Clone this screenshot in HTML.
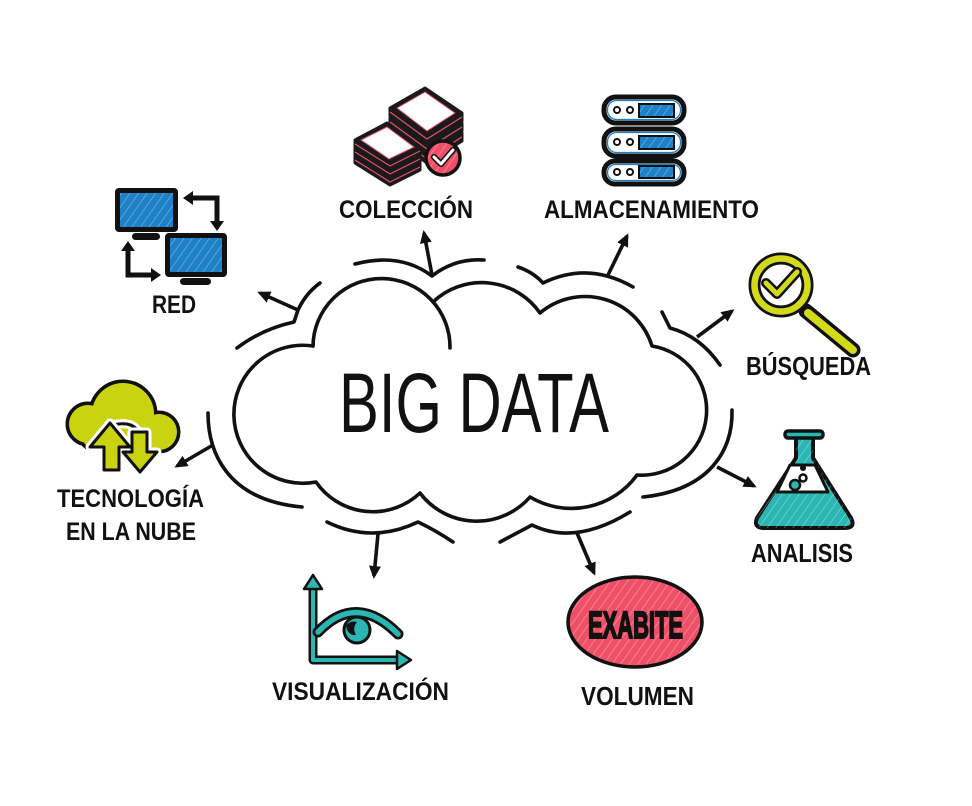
<!DOCTYPE html>
<html><head><meta charset="utf-8"><style>
html,body{margin:0;padding:0;background:#fff;}
svg{display:block;}
text{font-family:"Liberation Sans",sans-serif;}
</style></head><body>
<svg width="972" height="806" viewBox="0 0 972 806" xmlns="http://www.w3.org/2000/svg">
<defs>
<marker id="ah" markerUnits="userSpaceOnUse" markerWidth="14" markerHeight="12" refX="10" refY="6" orient="auto">
<path d="M0,0 L13,6 L0,12 z" fill="#111"/>
</marker>
<pattern id="hz" width="7" height="7" patternUnits="userSpaceOnUse" patternTransform="rotate(35)">
<line x1="0" y1="0" x2="0" y2="7" stroke="#fff" stroke-width="1.2" opacity=".45"/>
</pattern>
</defs>
<rect width="972" height="806" fill="#fff"/>

<!-- ===== main cloud ===== -->
<g fill="none" stroke="#111" stroke-width="3.6" stroke-linecap="round" stroke-linejoin="round">
<path d="M313,346 A67,67 0 0,1 450,348"/>
<path d="M433,302 A71,71 0 0,1 540,313 A70,70 0 0,1 652,346 A65,65 0 0,1 637,475 A81,81 0 0,1 530,497 A71,71 0 0,1 420,493 A69,69 0 0,1 316,482 A69,69 0 1,1 313,346"/>
<!-- outer arcs -->
<path d="M237,348 Q262,329 294,322 L298,310 Q306,293 320,283"/>
<path d="M355,264 Q400,252 432,276 Q455,258 484,260"/>
<path d="M518,267 Q533,272 543,283 Q588,261 633,287"/>
<path d="M662,312 L670,328 Q700,336 720,365"/>
<path d="M732,410 C733,450 710,490 643,497"/>
<path d="M500,542 L532,525 Q575,546 630,512"/>
<path d="M327,522 Q372,544 418,522 Q435,530 453,542"/>
<path d="M208,413 C208,450 225,500 302,507"/>
</g>
<!-- arrows -->
<g stroke="#111" stroke-width="3.6" fill="none" marker-end="url(#ah)">
<line x1="298" y1="310" x2="260" y2="293"/>
<line x1="432" y1="275" x2="424" y2="233"/>
<line x1="608" y1="275" x2="627" y2="236"/>
<line x1="697" y1="337" x2="732" y2="311"/>
<line x1="717" y1="467" x2="754" y2="486"/>
<line x1="577" y1="533" x2="594" y2="573"/>
<line x1="378" y1="534" x2="374" y2="576"/>
<line x1="213" y1="445" x2="177" y2="466"/>
</g>

<text x="339" y="432" font-size="84" textLength="270" lengthAdjust="spacingAndGlyphs" fill="#111">BIG DATA</text>

<!-- ===== labels ===== -->
<g font-weight="bold" fill="#111" font-size="25">
<text x="152" y="313" textLength="44" lengthAdjust="spacingAndGlyphs">RED</text>
<text x="339" y="218" textLength="134" lengthAdjust="spacingAndGlyphs">COLECCIÓN</text>
<text x="544" y="218" textLength="215" lengthAdjust="spacingAndGlyphs">ALMACENAMIENTO</text>
<text x="746" y="375" font-size="26" textLength="125" lengthAdjust="spacingAndGlyphs">BÚSQUEDA</text>
<text x="751" y="562" font-size="26" textLength="102" lengthAdjust="spacingAndGlyphs">ANALISIS</text>
<text x="581" y="705" font-size="26" textLength="113" lengthAdjust="spacingAndGlyphs">VOLUMEN</text>
<text x="272" y="700" textLength="177" lengthAdjust="spacingAndGlyphs">VISUALIZACIÓN</text>
<text x="57" y="507" textLength="147" lengthAdjust="spacingAndGlyphs">TECNOLOGÍA</text>
<text x="66" y="540" textLength="130" lengthAdjust="spacingAndGlyphs">EN LA NUBE</text>
</g>

<!-- ===== RED icon ===== -->
<g>
<rect x="115" y="188" width="63" height="44" rx="4" fill="#111"/>
<rect x="120" y="193" width="53" height="34" fill="#1e80c6"/>
<rect x="120" y="193" width="53" height="34" fill="url(#hz)"/>
<rect x="132" y="233" width="28" height="7" rx="3.5" fill="#111"/>
<rect x="165" y="233" width="62" height="44" rx="4" fill="#111"/>
<rect x="170" y="238" width="52" height="34" fill="#1e80c6"/>
<rect x="170" y="238" width="52" height="34" fill="url(#hz)"/>
<rect x="180" y="278" width="31" height="7" rx="3.5" fill="#111"/>
<polyline points="191,198 217,198 217,223" fill="none" stroke="#111" stroke-width="5"/>
<polygon points="183,198 193,191 193,205" fill="#111"/>
<polygon points="217,231 210,221 224,221" fill="#111"/>
<polyline points="128,250 128,275 152,275" fill="none" stroke="#111" stroke-width="5"/>
<polygon points="128,241 121,251 135,251" fill="#111"/>
<polygon points="161,275 151,268 151,282" fill="#111"/>
</g>

<!-- ===== COLECCION icon ===== -->
<g stroke-linejoin="round">
<g>
<polygon points="390,128 425,108 462,133 462,141 427,163 390,136" fill="#1a1a1a" stroke="#1a1a1a" stroke-width="3"/>
<polyline points="390,132 427,159 462,137" fill="none" stroke="#e8506a" stroke-width="1.2"/>
<polygon points="390,118 425,98 462,123 462,131 427,153 390,126" fill="#1a1a1a" stroke="#1a1a1a" stroke-width="3"/>
<polyline points="390,122 427,149 462,127" fill="none" stroke="#e8506a" stroke-width="1.2"/>
<polygon points="390,108 425,88 462,113 462,121 427,143 390,116" fill="#1a1a1a" stroke="#1a1a1a" stroke-width="3"/>
<polyline points="390,112 427,139 462,117" fill="none" stroke="#e8506a" stroke-width="1.2"/>
<polygon points="397,108 425,92 455,113 427,131" fill="#fff" stroke="#e8506a" stroke-width="1"/>
</g>
<g>
<polygon points="355,156 387,139 420,163 420,170 390,185 355,163" fill="#1a1a1a" stroke="#1a1a1a" stroke-width="3"/>
<polyline points="355,160 390,182 420,167" fill="none" stroke="#e8506a" stroke-width="1.2"/>
<polygon points="355,148 387,131 420,155 420,162 390,177 355,155" fill="#1a1a1a" stroke="#1a1a1a" stroke-width="3"/>
<polyline points="355,152 390,174 420,159" fill="none" stroke="#e8506a" stroke-width="1.2"/>
<polygon points="355,140 387,123 420,147 420,154 390,169 355,147" fill="#1a1a1a" stroke="#1a1a1a" stroke-width="3"/>
<polyline points="355,144 390,166 420,151" fill="none" stroke="#e8506a" stroke-width="1.2"/>
<polygon points="361,140 387,127 414,147 389,159" fill="#fff" stroke="#e8506a" stroke-width="1"/>
</g>
<circle cx="443" cy="158" r="17" fill="#ef4f67" stroke="#111" stroke-width="3.5"/>
<circle cx="443" cy="158" r="15" fill="url(#hz)"/>
<polyline points="434,157 441,164 453,150" fill="none" stroke="#111" stroke-width="6" stroke-linecap="round"/>
<polyline points="434,157 441,164 453,150" fill="none" stroke="#fff" stroke-width="3" stroke-linecap="round"/>
</g>

<!-- ===== server icon ===== -->
<g>
<g fill="#fff" stroke="#111" stroke-width="5">
<rect x="604" y="97" width="80" height="26" rx="12"/>
<rect x="604" y="129" width="80" height="27" rx="12"/>
<rect x="604" y="161" width="80" height="23" rx="11"/>
</g>
<g fill="none" stroke="#1e80c6" stroke-width="1.3">
<rect x="607.5" y="100.5" width="73" height="19" rx="9"/>
<rect x="607.5" y="132.5" width="73" height="20" rx="9"/>
<rect x="607.5" y="164.5" width="73" height="16" rx="8"/>
</g>
<g fill="#fff" stroke="#111" stroke-width="2">
<circle cx="617" cy="110" r="3"/><circle cx="630" cy="110" r="3"/>
<circle cx="617" cy="142" r="3"/><circle cx="630" cy="142" r="3"/>
<circle cx="617" cy="172" r="3"/><circle cx="630" cy="172" r="3"/>
</g>
<g fill="#1e80c6" stroke="#111" stroke-width="2">
<rect x="639" y="104" width="35" height="13"/>
<rect x="639" y="136" width="35" height="13"/>
<rect x="639" y="166" width="35" height="12"/>
</g>
<rect x="640" y="105" width="33" height="11" fill="url(#hz)"/>
<rect x="640" y="137" width="33" height="11" fill="url(#hz)"/>
<rect x="640" y="167" width="33" height="10" fill="url(#hz)"/>
</g>

<!-- ===== magnifier ===== -->
<g stroke-linecap="round" stroke-linejoin="round">
<line x1="806" y1="311" x2="853" y2="350" stroke="#111" stroke-width="15"/>
<line x1="808" y1="313" x2="853" y2="350" stroke="#d2da1a" stroke-width="8"/>
<circle cx="781" cy="285" r="26.5" fill="#fff" stroke="#111" stroke-width="12"/>
<circle cx="781" cy="285" r="26.5" fill="none" stroke="#d2da1a" stroke-width="6.5"/>
<polyline points="766,283 777,294 797,272" fill="none" stroke="#111" stroke-width="10"/>
<polyline points="766,283 777,294 797,272" fill="none" stroke="#d2da1a" stroke-width="5"/>
</g>

<!-- ===== cloud (tecnologia) icon ===== -->
<g>
<g fill="#111" stroke="#111" stroke-width="7">
<circle cx="88" cy="424" r="19"/>
<circle cx="123" cy="414" r="31"/>
<circle cx="159" cy="432" r="18"/>
<rect x="82" y="420" width="84" height="28" rx="12"/>
</g>
<g fill="#c9d30f">
<circle cx="88" cy="424" r="19"/>
<circle cx="123" cy="414" r="31"/>
<circle cx="159" cy="432" r="18"/>
<rect x="82" y="420" width="84" height="28" rx="12"/>
</g>
<path d="M100,447 Q98,426 118,424 Q134,422 139,433" fill="none" stroke="#fff" stroke-width="9"/>
<path d="M100,447 Q98,426 118,424 Q134,422 139,433" fill="none" stroke="#111" stroke-width="3"/>
<g stroke-linejoin="round">
<polygon points="110,423 130,447 119,447 119,470 104,470 104,447 90,447" fill="#c9d30f" stroke="#fff" stroke-width="9"/>
<polygon points="132,432 147,432 147,452 157,452 140,472 123,452 132,452" fill="#c9d30f" stroke="#fff" stroke-width="9"/>
<polygon points="110,423 130,447 119,447 119,470 104,470 104,447 90,447" fill="#c9d30f" stroke="#111" stroke-width="3"/>
<polygon points="132,432 147,432 147,452 157,452 140,472 123,452 132,452" fill="#c9d30f" stroke="#111" stroke-width="3"/>
</g>
</g>

<!-- ===== eye / visualization icon ===== -->
<g stroke-linejoin="round" stroke-linecap="round">
<polyline points="313,586 313,660 400,660" fill="none" stroke="#111" stroke-width="9"/>
<polyline points="313,586 313,660 400,660" fill="none" stroke="#2ab7b3" stroke-width="4"/>
<polygon points="313,575 304,589 322,589" fill="#2ab7b3" stroke="#111" stroke-width="2.5"/>
<polygon points="411,660 397,651 397,669" fill="#2ab7b3" stroke="#111" stroke-width="2.5"/>
<circle cx="357" cy="630" r="13" fill="#2ab7b3" stroke="#111" stroke-width="3"/>
<path d="M346,626 Q350,620 357,622 Q352,628 356,635 Q348,636 346,626 z" fill="#111"/>
<path d="M318,632 Q356,592 398,634" fill="none" stroke="#111" stroke-width="11"/>
<path d="M318,632 Q356,592 398,634" fill="none" stroke="#2ab7b3" stroke-width="5.5"/>
</g>

<!-- ===== EXABITE ===== -->
<g>
<ellipse cx="635" cy="622" rx="67" ry="45" fill="#ef5068" stroke="#111" stroke-width="3.5"/>
<ellipse cx="635" cy="622" rx="65" ry="43" fill="url(#hz)"/>
<text x="588" y="638" font-size="38" font-weight="bold" textLength="95" lengthAdjust="spacingAndGlyphs" fill="#111" stroke="#111" stroke-width="2">EXABITE</text>
</g>

<!-- ===== flask ===== -->
<g stroke-linejoin="round">
<path d="M796,437 L796,458 L757,518 Q753,528 764,528 L845,528 Q856,528 851,518 L813,458 L813,437 z" fill="#2ab7b3" stroke="#111" stroke-width="4"/>
<path d="M796,440 L796,458 L757,518 Q753,528 764,528 L845,528 Q856,528 851,518 L813,458 L813,440 z" fill="url(#hz)"/>
<rect x="785" y="431" width="38" height="7" rx="3" fill="#2ab7b3" stroke="#111" stroke-width="3.5"/>
<polygon points="790,465 815,465 828,492 777,492" fill="#fff" stroke="#111" stroke-width="3"/>
<circle cx="803" cy="468" r="3" fill="#111"/>
<circle cx="803" cy="478" r="3.5" fill="#fff" stroke="#111" stroke-width="2.5"/>
<circle cx="795" cy="485" r="5" fill="#2ab7b3" stroke="#111" stroke-width="2.5"/>
</g>
</svg>
</body></html>
